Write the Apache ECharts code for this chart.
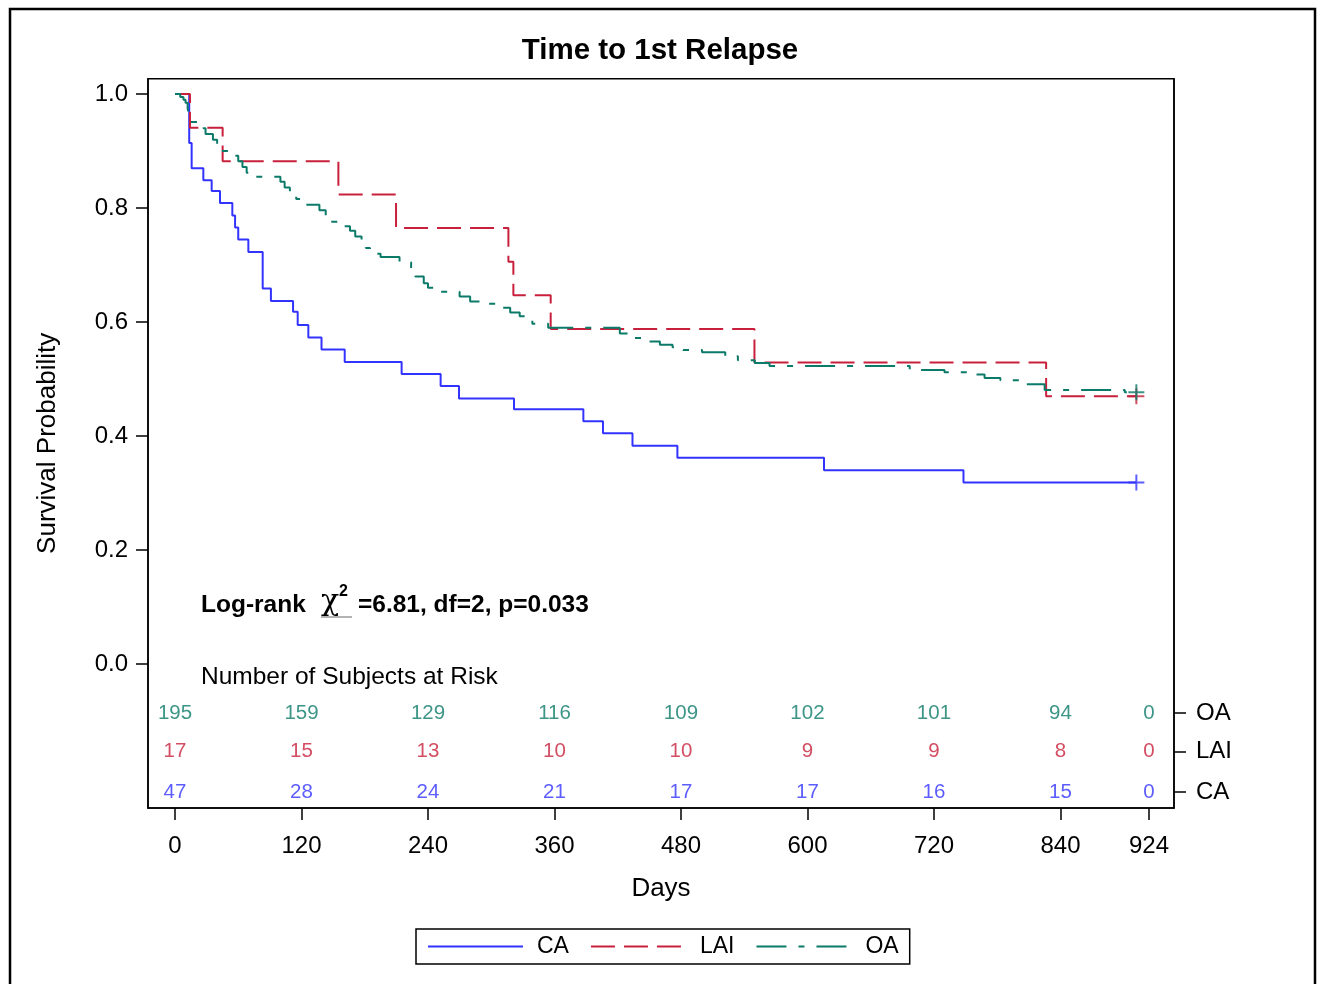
<!DOCTYPE html>
<html>
<head>
<meta charset="utf-8">
<script src="https://cdn.jsdelivr.net/npm/echarts@6/dist/echarts.min.js"></script>
<style>
html,body{margin:0;padding:0;background:#fff;}
#chart{width:1320px;height:984px;}
</style>
</head>
<body>
<div id="chart"></div>
<script>
// ---- data ----
const caCurve = [[0,1.0],[13.5,0.914],[15.8,0.870],[26.9,0.849],[34.8,0.830],[42.7,0.809],[54.4,0.787],[57,0.766],[60,0.745],[69.6,0.723],[83.2,0.659],[91,0.637],[112,0.618],[116.4,0.595],[126.5,0.573],[139,0.552],[161,0.530],[215,0.509],[252,0.488],[269.4,0.466],[321.6,0.447],[387.4,0.426],[406,0.405],[434,0.383],[476.6,0.362],[615.7,0.340],[748,0.3186],[912,0.3186]];
const laiCurve = [[0,1.0],[14.2,0.941],[45.2,0.882],[155,0.824],[209.7,0.765],[316.3,0.706],[321,0.647],[356.4,0.588],[549.7,0.529],[826.4,0.470],[912,0.470]];
const oaCurve = [[0,1.0],[5,0.995],[8,0.990],[10,0.985],[12,0.975],[13,0.965],[14,0.951],[27,0.940],[29,0.930],[36,0.920],[40,0.910],[43,0.900],[54,0.892],[60,0.882],[64,0.872],[68,0.862],[76,0.855],[100,0.846],[104,0.836],[109,0.826],[115,0.816],[123,0.806],[137,0.796],[143,0.786],[147,0.776],[154,0.768],[166,0.760],[171,0.750],[177,0.740],[181,0.730],[185,0.720],[195,0.714],[213,0.705],[224,0.692],[228,0.680],[236,0.668],[240,0.660],[247,0.653],[270,0.645],[280,0.636],[296,0.632],[308,0.625],[318,0.617],[327,0.610],[339,0.597],[354,0.590],[422,0.580],[430,0.572],[449,0.566],[460,0.560],[472,0.556],[482,0.551],[500,0.547],[522,0.540],[534,0.533],[550,0.528],[564,0.523],[697,0.516],[730,0.512],[754,0.508],[768,0.502],[783,0.498],[806,0.491],[825,0.481],[901,0.477],[912,0.477]];
const caCensor = [[912,0.3186]];
const laiCensor = [[912,0.470]];
const oaCensor = [[912,0.477]];

const atRiskTimes = [0,120,240,360,480,600,720,840,924];
const oaRisk = [195,159,129,116,109,102,101,94,0];
const laiRisk = [17,15,13,10,10,9,9,8,0];
const caRisk = [47,28,24,21,17,17,16,15,0];
const riskRowNames = ['OA','LAI','CA'];

const xTicks = [0,120,240,360,480,600,720,840,924];
const yTicks = [0,0.2,0.4,0.6,0.8,1.0];

const titleText = 'Time to 1st Relapse';
const xName = 'Days';
const yName = 'Survival Probability';
const statLabel = 'Log-rank';
const chiText = 'χ';
const chiSup = '2';
const statText = '=6.81, df=2, p=0.033';
const riskTitle = 'Number of Subjects at Risk';

// ---- layout / style ----
const COL = {CA:'#3333ff', LAI:'#c8203c', OA:'#0b7a68'};
const xMin = -25.6, xMax = 947.7;
const yMin = -0.2526, yMax = 1.027;
const rowY = [-0.086, -0.154, -0.2246]; // OA, LAI, CA rows
const FONT = 'Liberation Sans, Arial, sans-serif';

function riskSeries(name, vals, row, color){
  return {
    type:'scatter', name: name+'_risk', silent:true, symbolSize:0,
    data: atRiskTimes.map((t,i)=>[t,row,vals[i]]),
    label:{show:true, position:'inside', formatter:p=>String(p.data[2]), color:color, fontSize:20.5, fontFamily:FONT},
    z:5
  };
}
function censorSeries(name, pts, color){
  return {
    type:'scatter', name:name+'_cens', silent:true,
    symbol:'path://M0,7H14M7,0V14', symbolSize:[16,16],
    itemStyle:{color:'rgba(0,0,0,0)', borderColor:color, borderWidth:2},
    data: pts, z:6
  };
}

const chart = echarts.init(document.getElementById('chart'));
chart.setOption({
  animation:false,
  backgroundColor:'#fff',
  title:{text:titleText, left:'center', top:31, textStyle:{fontSize:29.5, fontWeight:'bold', color:'#000', fontFamily:FONT}},
  grid:{left:148, right:146, top:78.7, bottom:176, show:true, borderColor:'#000', borderWidth:1.5, containLabel:false},
  xAxis:{
    type:'value', min:xMin, max:xMax,
    axisLine:{show:true, onZero:false, lineStyle:{color:'#000', width:1.5}},
    axisTick:{show:true, length:12, customValues:xTicks, lineStyle:{color:'#000', width:1.5}},
    axisLabel:{customValues:xTicks, fontSize:24, color:'#000', margin:26, fontFamily:FONT},
    splitLine:{show:false},
    name:xName, nameLocation:'middle', nameGap:68,
    nameTextStyle:{fontSize:26, color:'#000', fontFamily:FONT}
  },
  yAxis:[{
    type:'value', min:yMin, max:yMax,
    axisLine:{show:true, onZero:false, lineStyle:{color:'#000', width:1.5}},
    axisTick:{show:true, length:12, customValues:yTicks, lineStyle:{color:'#000', width:1.5}},
    axisLabel:{customValues:yTicks, formatter:v=>v.toFixed(1), fontSize:24, color:'#000', margin:20, fontFamily:FONT},
    splitLine:{show:false},
    name:yName, nameLocation:'middle', nameGap:87,
    nameTextStyle:{fontSize:26, color:'#000', fontFamily:FONT}
  },{
    type:'value', min:yMin, max:yMax, position:'right',
    axisLine:{show:true, onZero:false, lineStyle:{color:'#000', width:1.5}},
    axisTick:{show:true, length:12, customValues:rowY, lineStyle:{color:'#000', width:1.5}},
    axisLabel:{customValues:rowY, margin:22, fontSize:24, color:'#000', fontFamily:FONT,
      formatter:v=>{let k=0,b=1e9;rowY.forEach((r,i)=>{if(Math.abs(r-v)<b){b=Math.abs(r-v);k=i;}});return riskRowNames[k];}},
    splitLine:{show:false}
  }],
  legend:{
    data:['CA','LAI','OA'], left:416, top:929, orient:'horizontal',
    itemWidth:95, itemHeight:14, itemGap:21, padding:[6,11],
    borderColor:'#000', borderWidth:1.5, backgroundColor:'#fff',
    itemStyle:{opacity:0},
    textStyle:{fontSize:23, color:'#000', fontFamily:FONT, padding:[0,0,0,9]},
    selectedMode:false
  },
  series:[
    {type:'line', name:'CA', step:'end', data:caCurve, symbol:'none', lineStyle:{color:COL.CA, width:2}, itemStyle:{color:COL.CA}, z:3},
    {type:'line', name:'LAI', step:'end', data:laiCurve, symbol:'none', lineStyle:{color:COL.LAI, width:2, type:[24,9]}, itemStyle:{color:COL.LAI}, z:3},
    {type:'line', name:'OA', step:'end', data:oaCurve, symbol:'none', lineStyle:{color:COL.OA, width:2, type:[30,12,6,12]}, itemStyle:{color:COL.OA}, z:4},
    censorSeries('CA', caCensor, COL.CA),
    censorSeries('LAI', laiCensor, COL.LAI),
    censorSeries('OA', oaCensor, COL.OA),
    riskSeries('OA', oaRisk, rowY[0], COL.OA),
    riskSeries('LAI', laiRisk, rowY[1], COL.LAI),
    riskSeries('CA', caRisk, rowY[2], COL.CA)
  ],
  graphic:[
    {type:'rect', shape:{x:10, y:9, width:1305, height:1010}, style:{fill:'none', stroke:'#000', lineWidth:2.5}, silent:true},
    {type:'text', left:201, top:593, style:{text:statLabel, fontSize:24.5, fontWeight:'bold', fontFamily:FONT, fill:'#000'}},
    {type:'text', left:321, top:587, style:{text:chiText, fontSize:30, fontFamily:'DejaVu Serif', fill:'#000'}},
    {type:'text', left:339, top:584, style:{text:chiSup, fontSize:16, fontWeight:'bold', fontFamily:FONT, fill:'#000'}},
    {type:'text', left:358, top:593, style:{text:statText, fontSize:24.5, fontWeight:'bold', fontFamily:FONT, fill:'#000'}},
    {type:'line', shape:{x1:321, y1:617, x2:352, y2:617}, style:{stroke:'#999', lineWidth:1.5}, silent:true},
    {type:'text', left:201, top:665, style:{text:riskTitle, fontSize:24.5, fontFamily:FONT, fill:'#000'}}
  ]
});
</script>
</body>
</html>
